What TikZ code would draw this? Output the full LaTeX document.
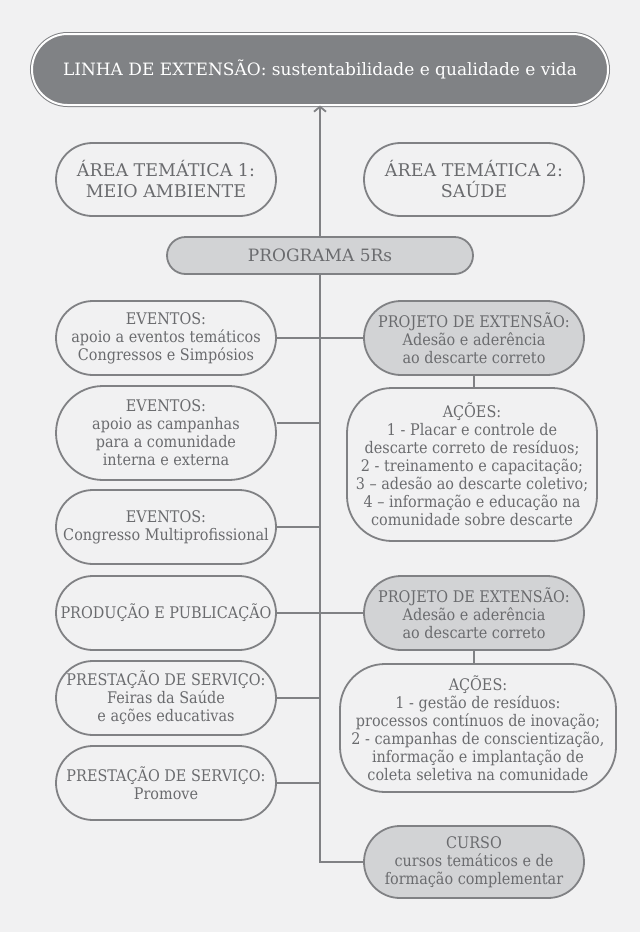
\documentclass[tikz,border=0pt]{standalone}
\usepackage{fontspec}
\setmainfont{DejaVu Serif}[FakeStretch=0.9]
\newfontfamily\largo{DejaVu Serif}
\usetikzlibrary{arrows.meta}
\definecolor{fundo}{HTML}{F1F1F2}
\definecolor{linha}{HTML}{808184}
\definecolor{texto}{HTML}{6A6B6E}
\definecolor{escuro}{HTML}{808285}
\definecolor{claro}{HTML}{D2D3D5}
\tikzset{
  caixa/.style={draw=linha, line width=1.8pt, text=texto, align=center,
    rectangle, inner sep=0pt, font=\fontsize{16}{18}\selectfont},
  lig/.style={draw=linha, line width=1.8pt},
}
\begin{document}
\begin{tikzpicture}[x=1pt,y=-1pt]
        \fill[fundo] (0,0) rectangle (640,932);
        \useasboundingbox (0,0) rectangle (640,932);
        % topo
        \node[draw=linha, line width=1pt, double=white, double distance=2pt,
              fill=escuro, text=white, rectangle, rounded corners=35.5pt,
              minimum width=576pt, minimum height=71pt,
              font=\largo\fontsize{17}{20}\selectfont] (linhaext) at (320,69.5)
              {LINHA DE EXTENSÃO: sustentabilidade e qualidade e vida};
        % areas
        \node[caixa, minimum width=220pt, minimum height=73pt, rounded corners=36.5pt,
              font=\largo\fontsize{17.5}{21}\selectfont] (area1) at (166,179.5)
              {ÁREA TEMÁTICA 1:\\MEIO AMBIENTE};
        \node[caixa, minimum width=220pt, minimum height=73pt, rounded corners=36.5pt,
              font=\largo\fontsize{17.5}{21}\selectfont] (area2) at (474,179.5)
              {ÁREA TEMÁTICA 2:\\SAÚDE};
        \node[caixa, fill=claro, minimum width=306pt, minimum height=37pt,
              rounded corners=18.5pt, font=\largo\fontsize{17}{20}\selectfont]
              (prog) at (320,255.5) {PROGRAMA 5Rs};
        % coluna esquerda
        \node[caixa, minimum width=220pt, minimum height=74pt, rounded corners=37pt]
              (ev1) at (166,338) {EVENTOS:\\apoio a eventos temáticos\\Congressos e Simpósios};
        \node[caixa, minimum width=220pt, minimum height=94pt, rounded corners=47pt]
              (ev2) at (166,433) {EVENTOS:\\apoio as campanhas\\para a comunidade\\interna e externa};
        \node[caixa, minimum width=220pt, minimum height=74pt, rounded corners=37pt]
              (ev3) at (166,527) {EVENTOS:\\Congresso Multiprofissional};
        \node[caixa, minimum width=220pt, minimum height=74pt, rounded corners=37pt]
              (prod) at (166,613) {PRODUÇÃO E PUBLICAÇÃO};
        \node[caixa, minimum width=220pt, minimum height=74pt, rounded corners=37pt]
              (serv1) at (166,698) {PRESTAÇÃO DE SERVIÇO:\\Feiras da Saúde\\e ações educativas};
        \node[caixa, minimum width=220pt, minimum height=74pt, rounded corners=37pt]
              (serv2) at (166,783) {PRESTAÇÃO DE SERVIÇO:\\Promove};
        % coluna direita
        \node[caixa, fill=claro, minimum width=220pt, minimum height=74pt, rounded corners=37pt]
              (proj1) at (474,338) {PROJETO DE EXTENSÃO:\\Adesão e aderência\\ao descarte correto};
        \node[caixa, minimum width=250pt, minimum height=153pt, rounded corners=45pt]
              (acoes1) at (472,464.5) {AÇÕES:\\1 - Placar e controle de\\descarte correto de resíduos;\\2 - treinamento e capacitação;\\3 – adesão ao descarte coletivo;\\4 – informação e educação na\\comunidade sobre descarte};
        \node[caixa, fill=claro, minimum width=220pt, minimum height=74pt, rounded corners=37pt]
              (proj2) at (474,613) {PROJETO DE EXTENSÃO:\\Adesão e aderência\\ao descarte correto};
        \node[caixa, minimum width=276pt, minimum height=128pt, rounded corners=45pt]
              (acoes2) at (478,728) {AÇÕES:\\1 - gestão de resíduos:\\processos contínuos de inovação;\\2 - campanhas de conscientização,\\informação e implantação de\\coleta seletiva na comunidade};
        \node[caixa, fill=claro, minimum width=220pt, minimum height=72pt, rounded corners=36pt]
              (curso) at (474,862) {CURSO\\cursos temáticos e de\\formação complementar};
        % ligacoes
        \draw[lig, -{Straight Barb[length=5pt,width=12pt]}] (prog.north) -- (linhaext.south);
        \draw[lig] (prog.south) |- (curso.west);
        \foreach \n in {ev1, ev3, prod, serv1, serv2}
            \draw[lig] (\n.east) -- (\n.east -| prog.south);
        \draw[lig] ([yshift=10pt]ev2.east) -- ([yshift=10pt]ev2.east -| prog.south);
        \foreach \n in {proj1, proj2}
            \draw[lig] (\n.west) -- (\n.west -| prog.south);
        \draw[lig] (proj1.south) -- (proj1.south |- acoes1.north);
        \draw[lig] (proj2.south) -- (proj2.south |- acoes2.north);
    \end{tikzpicture}
\end{document}
